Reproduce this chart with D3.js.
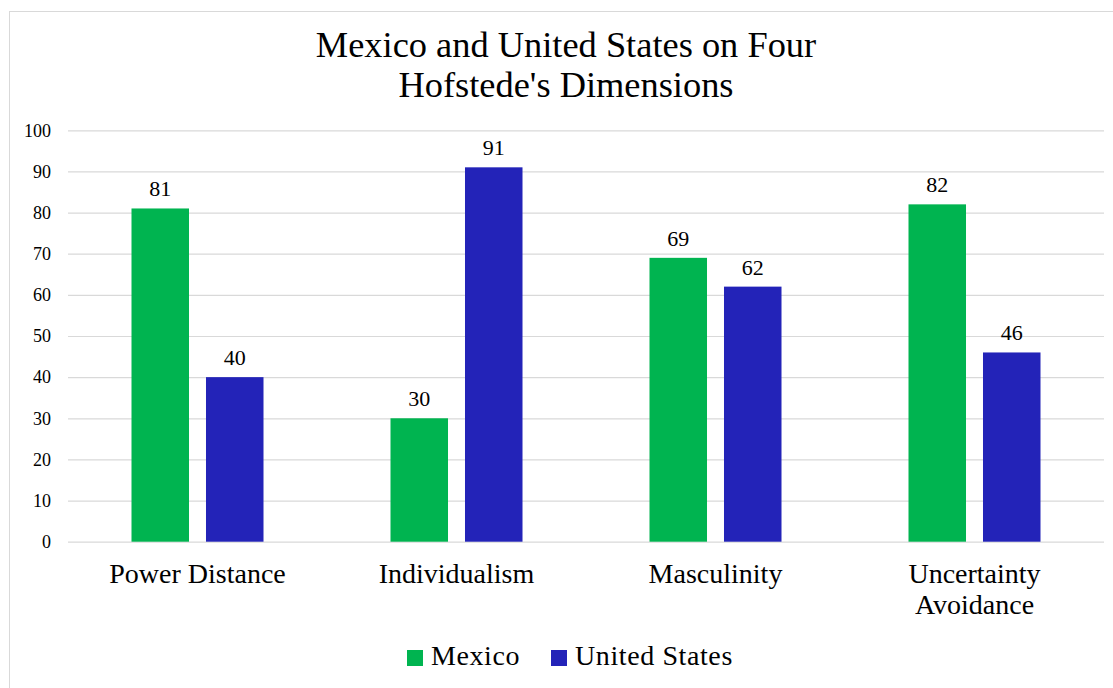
<!DOCTYPE html>
<html>
<head>
    <meta charset="utf-8">
    <title>Hofstede</title>
    <style>
        body { margin: 0; background: #fff; }
        svg text { font-family: "Liberation Serif", Tinos, "DejaVu Serif", serif; fill: #000; }
    </style>
</head>
<body>
    <script src="https://d3js.org/d3.v7.min.js"></script>
    <script>
    const categories = ["Power Distance", "Individualism", "Masculinity", "Uncertainty Avoidance"];
    const seriesNames = ["Mexico", "United States"];
    const mexico = [81, 30, 69, 82];
    const unitedStates = [40, 91, 62, 46];
    const yTicks = [0, 10, 20, 30, 40, 50, 60, 70, 80, 90, 100];
    const colors = ["#00b450", "#2323b8"];

    const width = 1113, height = 688;
    const plotLeft = 68, plotRight = 1104, plotTop = 130.3, plotBottom = 541.7;
    const serif = "'Liberation Serif', Tinos, 'DejaVu Serif', serif";

    var svg = d3.select("body").append("svg")
        .attr("width", width)
        .attr("height", height)
        .attr("font-family", serif);

    // outer chart border
    svg.append("rect")
        .attr("x", 9.5).attr("y", 11.5)
        .attr("width", 1120).attr("height", 700)
        .attr("fill", "none")
        .attr("stroke", "#d9d9d9");

    var x = d3.scaleBand()
        .domain(categories)
        .range([plotLeft, plotRight]);

    var xs = d3.scaleBand()
        .domain(seriesNames)
        .range([x.bandwidth() / 2 - 66, x.bandwidth() / 2 + 66])
        .paddingInner(0.228);

    var y = d3.scaleLinear()
        .domain([0, 100])
        .range([plotBottom, plotTop]);

    // title
    var title = svg.append("text")
        .attr("x", 566)
        .attr("text-anchor", "middle")
        .style("font-family", serif)
        .style("font-size", "36.4px");
    title.append("tspan").attr("x", 566).attr("y", 57).text("Mexico and United States on Four");
    title.append("tspan").attr("x", 566).attr("y", 97).text("Hofstede's Dimensions");

    // y axis with gridlines
    var yAxis = svg.append("g")
        .attr("transform", "translate(" + plotLeft + ",0)")
        .call(d3.axisLeft(y).tickValues(yTicks).tickSize(-(plotRight - plotLeft)).tickPadding(17));
    yAxis.attr("font-family", serif);
    yAxis.select(".domain").remove();
    yAxis.selectAll(".tick line").attr("stroke", "#d9d9d9").attr("stroke-width", 1.2);
    yAxis.selectAll(".tick text")
        .style("font-size", "18px")
        .style("font-family", serif);

    var data = categories.map(function(c, i) {
        return { cat: c, values: [mexico[i], unitedStates[i]] };
    });

    var groups = svg.selectAll(".grp")
        .data(data)
        .enter().append("g")
        .attr("class", "grp")
        .attr("transform", function(d) { return "translate(" + x(d.cat) + ",0)"; });

    groups.selectAll("rect")
        .data(function(d) { return d.values.map(function(v, j) { return { name: seriesNames[j], v: v, j: j }; }); })
        .enter().append("rect")
        .attr("x", function(d) { return xs(d.name); })
        .attr("y", function(d) { return y(d.v); })
        .attr("width", xs.bandwidth())
        .attr("height", function(d) { return y(0) - y(d.v); })
        .attr("fill", function(d) { return colors[d.j]; });

    groups.selectAll(".lbl")
        .data(function(d) { return d.values.map(function(v, j) { return { name: seriesNames[j], v: v }; }); })
        .enter().append("text")
        .attr("class", "lbl")
        .attr("x", function(d) { return xs(d.name) + xs.bandwidth() / 2; })
        .attr("y", function(d) { return y(d.v) - 12; })
        .attr("text-anchor", "middle")
        .style("font-family", serif)
        .style("font-size", "22px")
        .text(function(d) { return d.v; });

    // category labels, wrapped when too wide
    var catLabels = groups.append("text")
        .attr("text-anchor", "middle")
        .style("font-family", serif)
        .style("font-size", "28px")
        .attr("y", 583);
    catLabels.each(function(d) {
        var t = d3.select(this);
        var cx = x.bandwidth() / 2;
        var words = d.cat.split(" ");
        var line = [], lineNo = 0;
        var ts = t.append("tspan").attr("x", cx).attr("y", 583);
        words.forEach(function(w) {
            line.push(w);
            ts.text(line.join(" "));
            if (ts.node().getComputedTextLength() > 215 && line.length > 1) {
                line.pop();
                ts.text(line.join(" "));
                line = [w];
                lineNo++;
                ts = t.append("tspan").attr("x", cx).attr("y", 583 + lineNo * 31).text(w);
            }
        });
    });

    // legend
    var legend = svg.append("g").attr("class", "legend");
    var lx = [407, 551];
    seriesNames.forEach(function(n, i) {
        legend.append("rect")
            .attr("x", lx[i]).attr("y", 650)
            .attr("width", 16).attr("height", 16)
            .attr("fill", colors[i]);
        legend.append("text")
            .attr("x", lx[i] + 24).attr("y", 665)
            .style("font-family", serif)
            .style("font-size", "28px")
            .style("letter-spacing", "0.6px")
            .text(n);
    });
    </script>
</body>
</html>
